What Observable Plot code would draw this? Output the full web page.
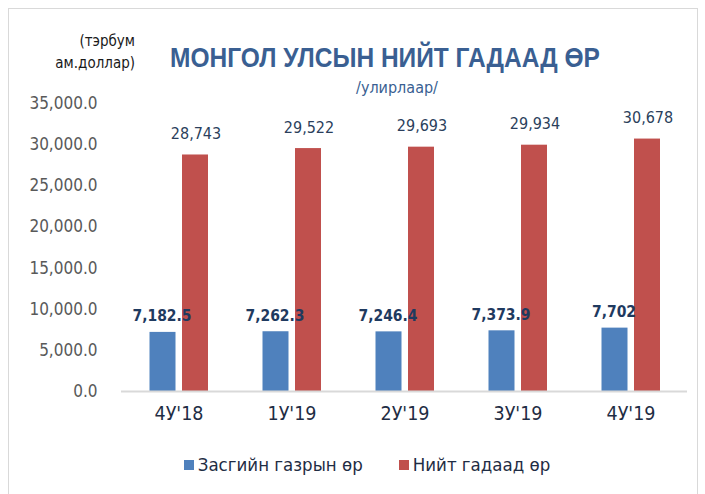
<!DOCTYPE html>
<html>
<head>
<meta charset="utf-8">
<script src="https://cdn.jsdelivr.net/npm/d3@7"></script>
<script src="https://cdn.jsdelivr.net/npm/@observablehq/plot@0.6"></script>
<style>
  body { margin: 0; background: #fff; }
  #wrap { position: relative; width: 705px; height: 494px; overflow: hidden;
    font-family: "DejaVu Sans Condensed", "DejaVu Sans", sans-serif; font-stretch: condensed; }
  #frame { position: absolute; left: 8px; top: 8px; width: 688px; height: 500px; border: 1px solid #d9d9d9; }
  #chart { position: absolute; left: 0; top: 0; }
  .abs { position: absolute; white-space: nowrap; }
  #unit { right: 570px; top: 30px; text-align: right; font-size: 15px; line-height: 22px; color: #1a1a1a; }
  #title { left: 0; width: 770px; top: 42px; text-align: center; font-family: "Liberation Sans Narrow", sans-serif;
    font-stretch: normal; font-weight: bold; font-size: 28px; color: #3a5f92;
    transform: scaleX(0.875); transform-origin: 385px 50%; }
  #subtitle { left: 0; width: 794px; top: 78px; text-align: center; font-size: 16px; color: #3a5f92; }
  #legend { left: 0; width: 734px; top: 454px; text-align: center; font-size: 18.5px; color: #1f2d44; }
  #legend span.sw { display: inline-block; width: 10px; height: 10px; margin-right: 4px; vertical-align: 1px; }
  #legend span.item { margin: 0 18px; }
</style>
</head>
<body>
<div id="wrap">
  <div id="frame"></div>
  <div id="chart"></div>
  <div id="unit" class="abs">(тэрбум<br>ам.доллар)</div>
  <div id="title" class="abs">МОНГОЛ УЛСЫН НИЙТ ГАДААД ӨР</div>
  <div id="subtitle" class="abs">/улирлаар/</div>
  <div id="legend" class="abs"></div>
</div>
<script>
const categories = ["4У'18", "1У'19", "2У'19", "3У'19", "4У'19"];
const seriesNames = ["Засгийн газрын өр", "Нийт гадаад өр"];
const govDebt = [7182.5, 7262.3, 7246.4, 7373.9, 7702];
const govDebtLabels = ["7,182.5", "7,262.3", "7,246.4", "7,373.9", "7,702"];
const totalDebt = [28743, 29522, 29693, 29934, 30678];
const totalDebtLabels = ["28,743", "29,522", "29,693", "29,934", "30,678"];
const yTicks = [0, 5000, 10000, 15000, 20000, 25000, 30000, 35000];
const colors = ["#4f81bd", "#c0504d"];

const gov = categories.map((c, i) => ({cat: c, value: govDebt[i], label: govDebtLabels[i]}));
const tot = categories.map((c, i) => ({cat: c, value: totalDebt[i], label: totalDebtLabels[i]}));

const chart = Plot.plot({
  width: 705,
  height: 494,
  marginTop: 103,
  marginBottom: 103,
  marginLeft: 121,
  marginRight: 18,
  style: {fontFamily: '"DejaVu Sans Condensed", "DejaVu Sans", sans-serif', background: "transparent"},
  x: {domain: categories, padding: 0, label: null},
  y: {domain: [0, 35000], label: null},
  marks: [
    Plot.axisY({ticks: yTicks, tickFormat: d3.format(",.1f"), tickSize: 0, tickPadding: 24,
      fontSize: 17, color: "#595959", label: null}),
    Plot.axisX({tickSize: 0, tickPadding: 15, fontSize: 19.5, color: "#1f2d44", label: null}),
    Plot.barY(gov, {x: "cat", y: "value", fill: colors[0], insetLeft: 27.5, insetRight: 59.5}),
    Plot.barY(tot, {x: "cat", y: "value", fill: colors[1], insetLeft: 60, insetRight: 27}),
    Plot.ruleY([0], {stroke: "#d9d9d9", strokeWidth: 2}),
    Plot.text(gov, {x: "cat", y: "value", text: "label", dx: -17, dy: -16, fontSize: 15.5,
      fontWeight: "bold", fill: "#1f3a5f"}),
    Plot.text(tot, {x: "cat", y: "value", text: "label", dx: 17, dy: -21, fontSize: 16,
      fill: "#2b3f5c"})
  ]
});
document.getElementById("chart").appendChild(chart);

const legend = document.getElementById("legend");
seriesNames.forEach((n, i) => {
  const item = document.createElement("span");
  item.className = "item";
  const sw = document.createElement("span");
  sw.className = "sw";
  sw.style.background = colors[i];
  item.appendChild(sw);
  item.appendChild(document.createTextNode(n));
  legend.appendChild(item);
});
</script>
</body>
</html>
